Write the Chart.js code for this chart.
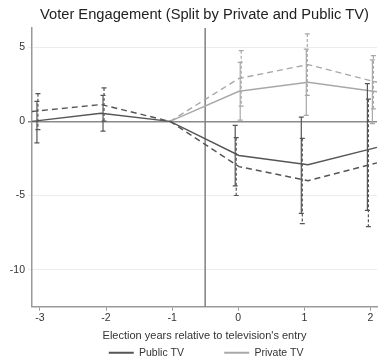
<!DOCTYPE html>
<html>
<head>
<meta charset="utf-8">
<script src="https://cdn.jsdelivr.net/npm/chart.js@4.4.1/dist/chart.umd.min.js"></script>
<style>
    html, body { margin: 0; padding: 0; background: #fff; }
    #wrap { width: 378px; height: 364px; }
</style>
</head>
<body>
<div id="wrap"><canvas id="mainChart"></canvas></div>
<script>
// Daten
const years = [-3, -2, -1, 0, 1, 2];
const privateYears = [-1, 0, 1, 2];
const yTicks = [5, 0, -5, -10];

const publicSolid = [0, 0.55, 0, -2.3, -2.92, -1.75];
const publicSolidLo = [-1.45, -0.65, 0, -4.35, -6.2, -6.0];
const publicSolidHi = [1.35, 1.75, 0, -0.27, 0.29, 2.55];

const publicDashed = [0.67, 1.14, 0, -3.05, -4.0, -2.8];
const publicDashedLo = [-0.55, 0.02, 0, -5.0, -6.9, -7.1];
const publicDashedHi = [1.87, 2.26, 0, -1.1, -1.15, 1.5];

const privateSolid = [0, 2.03, 2.64, 2.0];
const privateSolidLo = [0, 0.08, 0.4, -0.15];
const privateSolidHi = [0, 3.98, 4.88, 4.15];

const privateDashed = [0, 2.9, 3.83, 2.64];
const privateDashedLo = [0, 1.03, 1.76, 0.84];
const privateDashedHi = [0, 4.77, 5.9, 4.43];

const entryLine = -0.5;

const DARK = '#555555';
const LIGHT = '#a8a8a8';

function series(label, xs, ys, lo, hi, color, dashed, offset) {
    return {
        label,
        data: xs.map((x, i) => ({ x, y: ys[i] })),
        lo, hi,
        offset,
        borderColor: color,
        backgroundColor: color,
        borderWidth: 1.4,
        borderDash: dashed ? [6, 4] : [],
        pointRadius: 0,
        tension: 0,
        fill: false
    };
}

// Konfidenzintervalle + Linie beim TV-Eintritt
const extras = {
    id: 'extras',
    beforeDatasetsDraw(chart) {
        const { ctx, chartArea, scales } = chart;
        const x = scales.x.getPixelForValue(entryLine);
        ctx.save();
        ctx.strokeStyle = '#808080';
        ctx.lineWidth = 1.5;
        ctx.beginPath();
        ctx.moveTo(x, chartArea.top);
        ctx.lineTo(x, chartArea.bottom);
        ctx.stroke();
        ctx.restore();
    },
    afterDatasetsDraw(chart) {
        const { ctx, scales } = chart;
        chart.data.datasets.forEach(ds => {
            ctx.save();
            ctx.strokeStyle = ds.borderColor;
            ctx.lineWidth = 1.2;
            ds.data.forEach((p, i) => {
                if (ds.hi[i] === ds.lo[i]) return;
                const x = scales.x.getPixelForValue(p.x) + ds.offset;
                const yHi = scales.y.getPixelForValue(ds.hi[i]);
                const yLo = scales.y.getPixelForValue(ds.lo[i]);
                ctx.setLineDash(ds.borderDash.length ? [3, 2] : []);
                ctx.beginPath();
                ctx.moveTo(x, yHi);
                ctx.lineTo(x, yLo);
                ctx.stroke();
                ctx.setLineDash([]);
                ctx.beginPath();
                ctx.moveTo(x - 2.5, yHi); ctx.lineTo(x + 2.5, yHi);
                ctx.moveTo(x - 2.5, yLo); ctx.lineTo(x + 2.5, yLo);
                ctx.stroke();
            });
            ctx.restore();
        });
    }
};

const datasets = [
    series('Public TV', years, publicSolid, publicSolidLo, publicSolidHi, DARK, false, -3),
    series('Public TV (alt)', years, publicDashed, publicDashedLo, publicDashedHi, DARK, true, -2),
    series('Private TV', privateYears, privateSolid, privateSolidLo, privateSolidHi, LIGHT, false, 2),
    series('Private TV (alt)', privateYears, privateDashed, privateDashedLo, privateDashedHi, LIGHT, true, 3)
];

Chart.defaults.font.family = '"Liberation Sans", Arial, sans-serif';
Chart.defaults.color = '#333';

// leerer Legendeneintrag als Abstandhalter
const spacer = () => ({
    text: '', fillStyle: 'rgba(0,0,0,0)', strokeStyle: 'rgba(0,0,0,0)',
    lineWidth: 0, hidden: false, datasetIndex: -1
});

new Chart(document.getElementById('mainChart'), {
    type: 'line',
    data: { datasets },
    plugins: [extras],
    options: {
        responsive: true,
        maintainAspectRatio: false,
        animation: false,
        layout: { padding: { left: 0, right: 1, top: 1, bottom: -4 } },
        plugins: {
            legend: {
                position: 'bottom',
                labels: {
                    generateLabels: chart => {
                        const items = Chart.defaults.plugins.legend.labels.generateLabels(chart)
                            .filter(item => !item.text.includes('(alt)'));
                        items.forEach(item => { item.lineWidth = 0; });
                        // Legende sitzt mittig unter der Zeichenfläche
                        return [spacer(), items[0], spacer(), items[1]];
                    },
                    boxWidth: 25,
                    boxHeight: 2,
                    padding: 5,
                    color: '#333',
                    font: { size: 10.5 }
                }
            },
            tooltip: { enabled: false }
        },
        scales: {
            // nur für den Titel, damit er über der Zeichenfläche zentriert ist
            top: {
                type: 'linear',
                position: 'top',
                afterFit: s => { s.height = 27; },
                grid: { display: false },
                ticks: { display: false },
                border: { display: false },
                title: {
                    display: true,
                    text: 'Voter Engagement (Split by Private and Public TV)',
                    color: '#222',
                    font: { size: 14.7 },
                    padding: { top: 5, bottom: 4 }
                }
            },
            x: {
                type: 'linear',
                min: -3.12,
                max: 2.1,
                afterBuildTicks: s => { s.ticks = years.map(v => ({ value: v })); },
                ticks: { font: { size: 10.5 }, color: '#333', padding: 1 },
                grid: { drawOnChartArea: false, tickLength: 4, color: '#999' },
                border: { color: '#999', width: 1.5 },
                title: {
                    display: true,
                    text: "Election years relative to television's entry",
                    color: '#333',
                    font: { size: 11 },
                    padding: { top: 4, bottom: 0 }
                }
            },
            y: {
                min: -12.5,
                max: 6.3,
                afterBuildTicks: s => { s.ticks = yTicks.map(v => ({ value: v })); },
                afterFit: s => { s.width = 32; },
                ticks: { font: { size: 10.5 }, color: '#333', padding: 3 },
                grid: {
                    tickLength: 4,
                    color: ctx => ctx.tick && ctx.tick.value === 0 ? '#8a8a8a' : '#ececec',
                    lineWidth: ctx => ctx.tick && ctx.tick.value === 0 ? 1.5 : 1
                },
                border: { color: '#999', width: 1.5 }
            }
        }
    }
});
</script>
</body>
</html>
